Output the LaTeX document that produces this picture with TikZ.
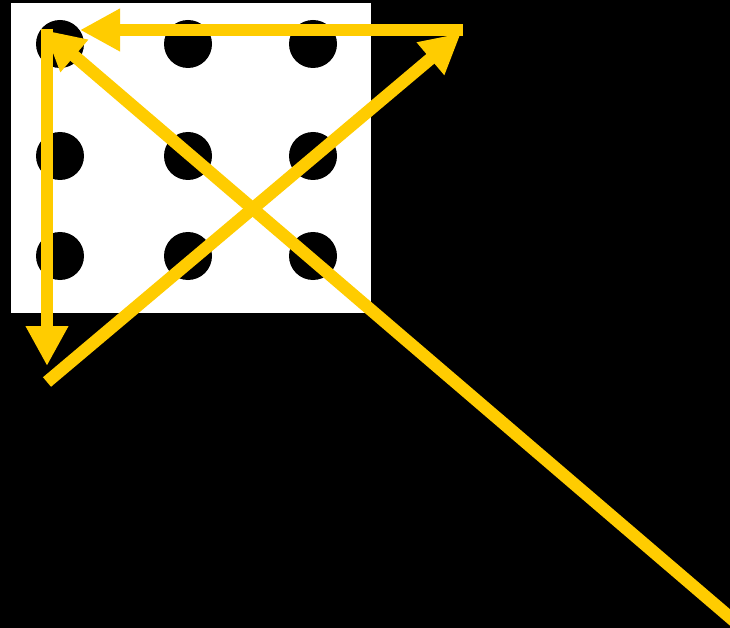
\documentclass[tikz,border=0pt]{standalone}
\usetikzlibrary{arrows.meta}
\definecolor{gold}{HTML}{FFCC00}
\begin{document}
\begin{tikzpicture}[x=1pt,y=-1pt,
  dot/.style={fill=black},
  stroke/.style={draw=gold,line width=12.5pt},
  arr/.style={stroke,-{Triangle[length=40pt,width=40pt]}}]
\fill[black] (0,0) rectangle (730,628);
\useasboundingbox (0,0) rectangle (730,628);
\fill[white] (11,3) rectangle (371,313);
\foreach \x in {60,188,313}{
  \foreach \y in {44,156,256}{
    \fill[dot] (\x,\y) circle (24);
  }
}
\coordinate (s) at (47,382);
\coordinate (tr) at (461,33);
\coordinate (hr) at (463,30);
\coordinate (hl) at (80,30);
\coordinate (vt) at (47,29);
\coordinate (vb) at (47,366);
\coordinate (de) at (740,626);
\coordinate (dt) at (44,30);
\draw[arr] (s) -- (tr);
\draw[arr] (hr) -- (hl);
\draw[arr] (vt) -- (vb);
\draw[arr] (de) -- (dt);
\end{tikzpicture}
\end{document}
